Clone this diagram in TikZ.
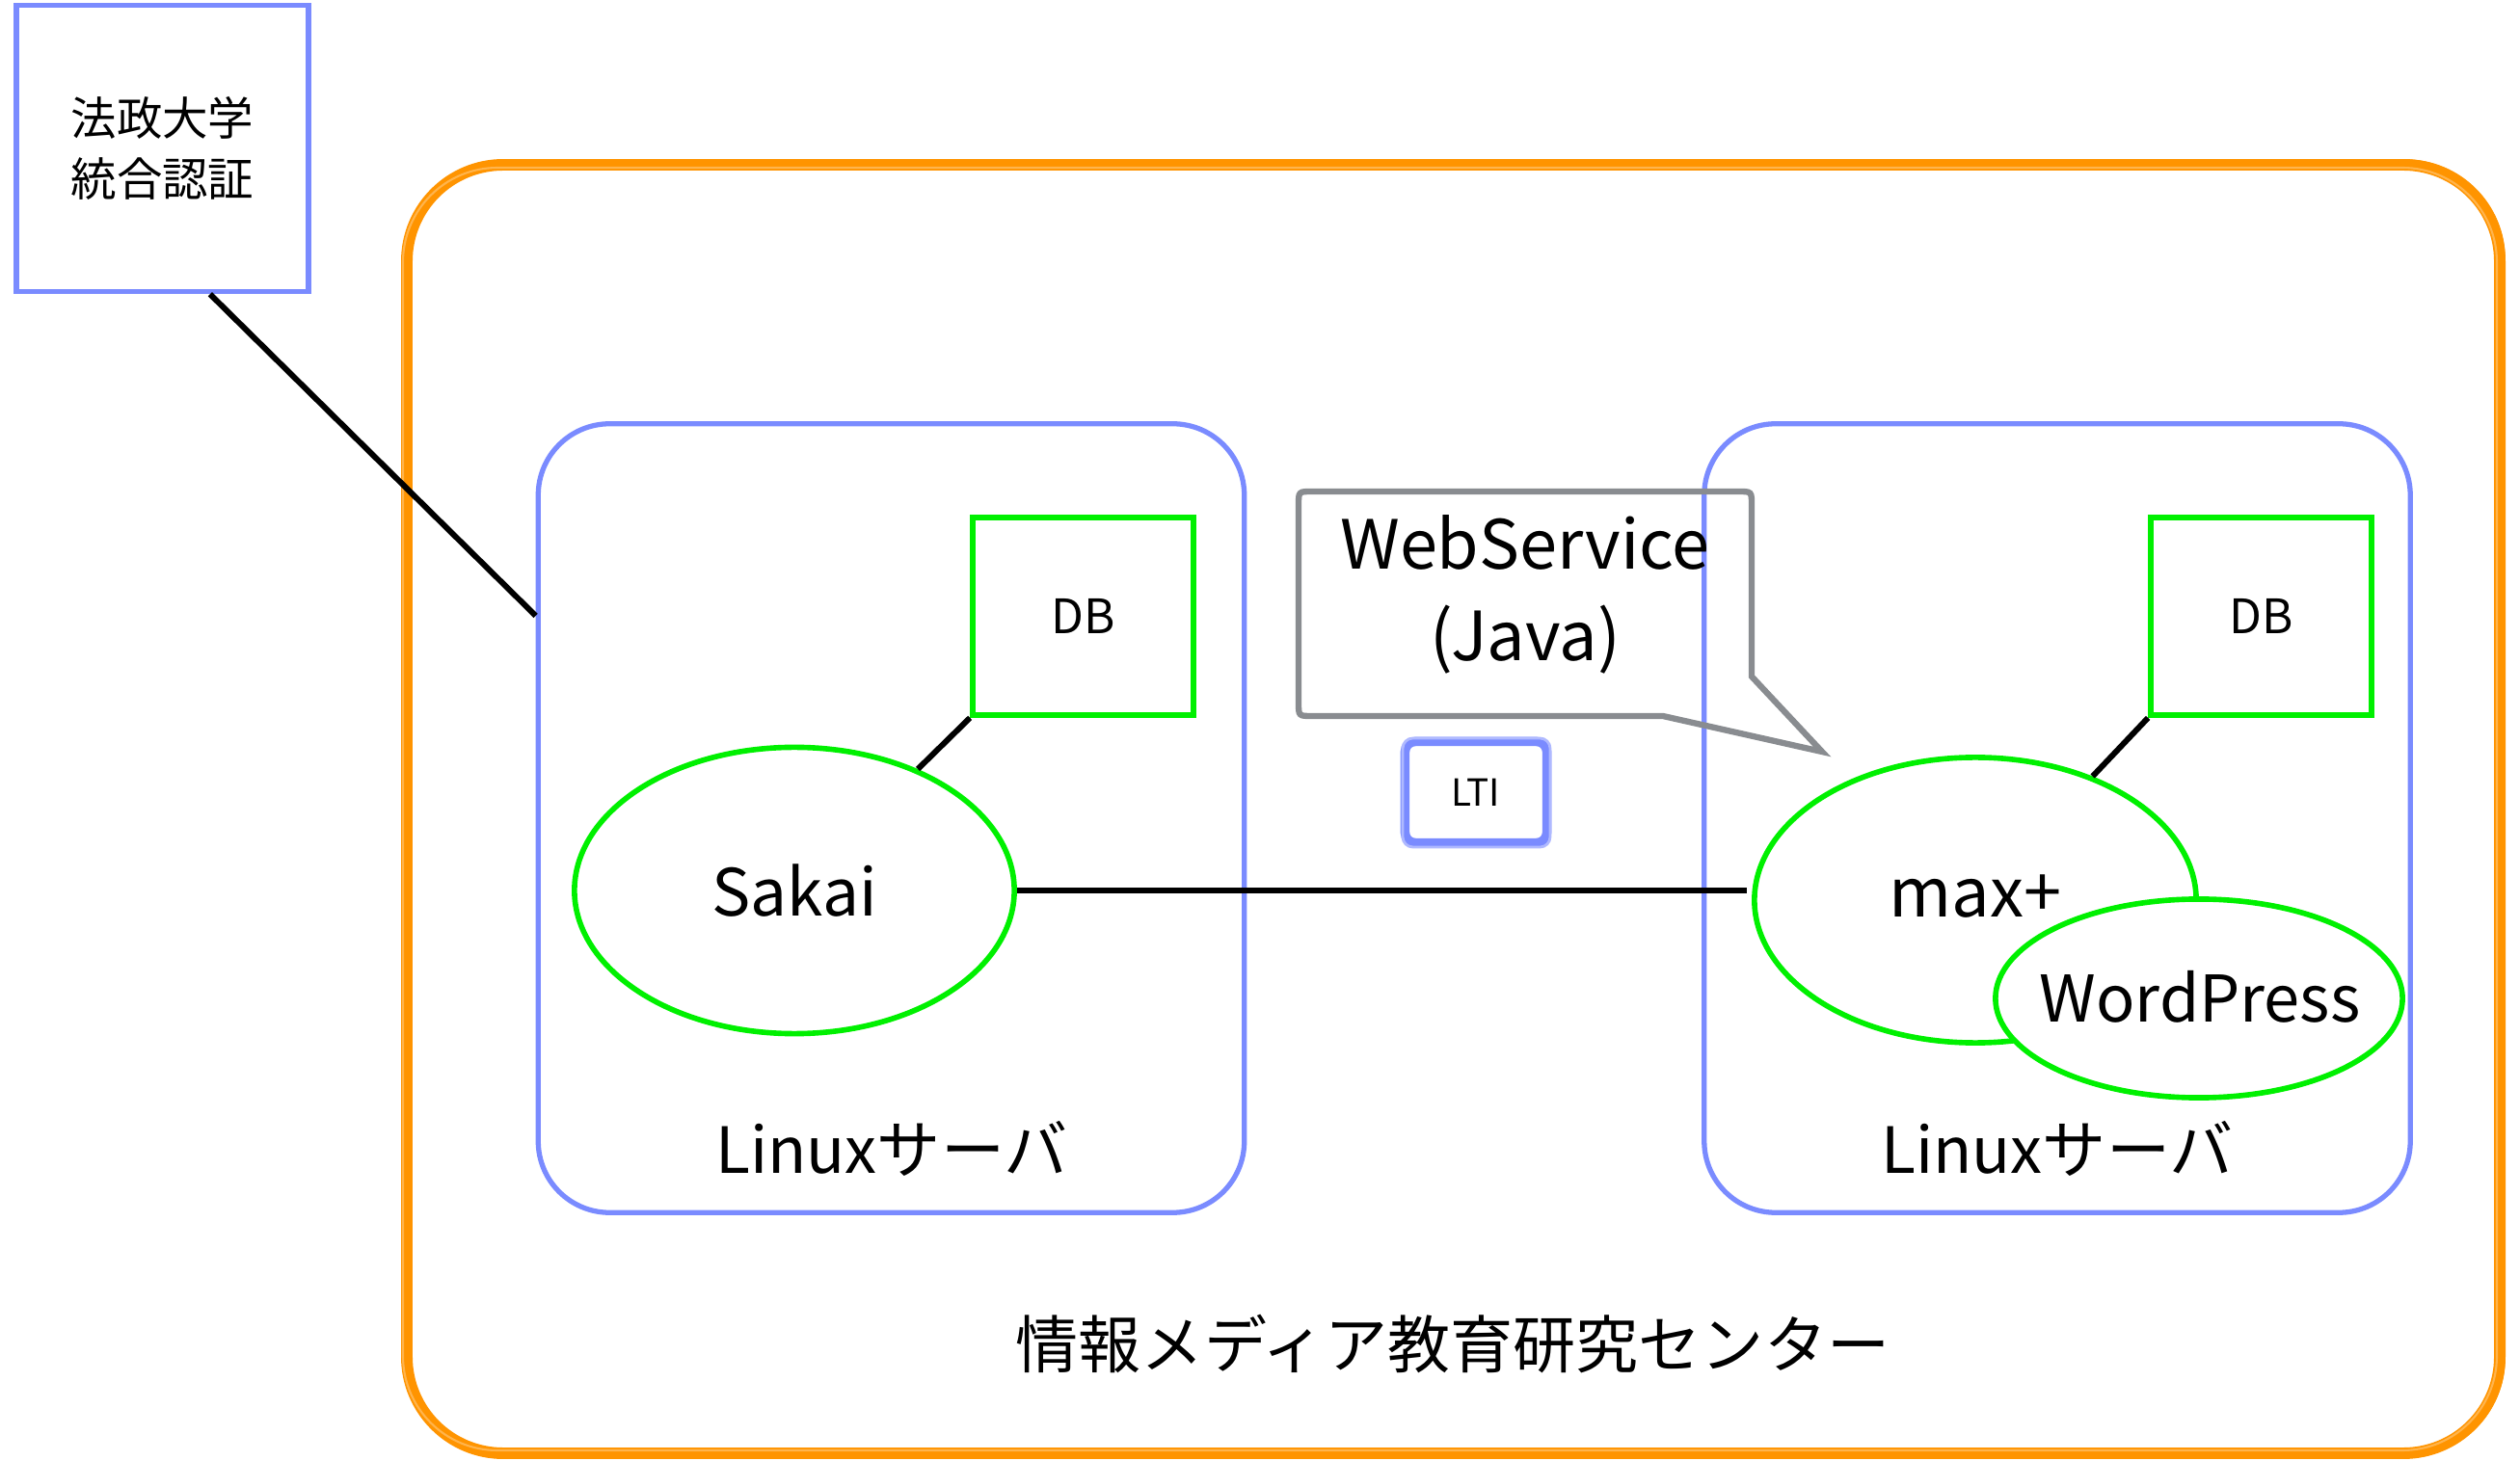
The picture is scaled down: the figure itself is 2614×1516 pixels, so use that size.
\documentclass[tikz,border=0pt]{standalone}
\usepackage{fontspec}
\setmainfont{Noto Sans CJK JP}
\usetikzlibrary{shapes.geometric,calc}
\definecolor{srvblue}{RGB}{122,139,255}
\definecolor{dbgreen}{RGB}{0,240,0}
\definecolor{orng}{RGB}{255,148,0}
\definecolor{callgray}{RGB}{137,140,144}
\tikzset{
  thinln/.style={line width=1.5pt},
  authbox/.style={draw=srvblue,thinln,rectangle,minimum width=3.03cm,minimum height=2.97cm,inner sep=0pt,align=center,font=\fontsize{13.5pt}{18pt}\selectfont},
  srvbox/.style={draw=srvblue,thinln,rectangle,rounded corners=0.74cm,minimum width=7.32cm,minimum height=8.18cm,inner sep=0pt},
  dbbox/.style={draw=dbgreen,line width=1.6pt,rectangle,minimum width=2.29cm,minimum height=2.05cm,inner sep=0pt,font=\fontsize{14pt}{16pt}\selectfont},
  appell/.style={draw=dbgreen,line width=1.6pt,ellipse,inner sep=0pt,fill=white},
  apptxt/.style={inner sep=0pt},
  bigtxt/.style={font=\fontsize{18.8pt}{22pt}\selectfont,inner sep=0pt},
  conn/.style={draw=black,line width=1.7pt},
  callout/.style={draw=callgray,line width=1.8pt,line join=miter},
  ltibox/.style={draw=srvblue,line width=2.7pt,rounded corners=3pt,rectangle,minimum width=1.47cm,minimum height=1.05cm,inner sep=0pt,font=\fontsize{11pt}{13pt}\selectfont},
}
\begin{document}
\begin{tikzpicture}[x=0.01cm,y=-0.01cm]
\useasboundingbox (0,0) rectangle (2614,1516);
% outer orange frame (sketchy)
\draw[orng,line width=3.4pt,rounded corners=1.0cm] (422,171) rectangle (2593,1508);
\draw[orng,line width=1.0pt,rounded corners=1.02cm] (425,167) rectangle (2597,1511);
\draw[orng!70,line width=0.6pt,rounded corners=0.98cm] (418,174) rectangle (2590,1505);
\node[bigtxt,font=\fontsize{18.5pt}{22pt}\selectfont] (center) at (1507,1395) {情報メディア教育研究センター};

% auth box
\node[authbox] (auth) at (168.5,154) {法政大学\\統合認証};

% servers
\node[srvbox] (lsrv) at (924.5,849) {};
\node[srvbox] (rsrv) at (2134,849) {};
\node[bigtxt] (llab) at (925,1192) {Linuxサーバ};
\node[bigtxt] (rlab) at (2134,1192) {Linuxサーバ};

% DBs
\node[dbbox] (ldb) at (1123.5,639.5) {DB};
\node[dbbox] (rdb) at (2345.5,639.5) {DB};

% apps
\node[appell,minimum width=4.56cm,minimum height=2.97cm] (sakai) at (824,924) {};
\node[apptxt,font=\fontsize{19.2pt}{22pt}\selectfont] (sakaitxt) at (sakai.center) {Sakai};
\node[appell,minimum width=4.58cm,minimum height=2.96cm] (maxp) at (2049,934) {};
\node[apptxt,font=\fontsize{20pt}{22pt}\selectfont] (maxptxt) at (2049,930) {max+};
\node[appell,minimum width=4.22cm,minimum height=2.06cm] (wp) at (2281,1036) {};
\node[apptxt,font=\fontsize{19pt}{22pt}\selectfont] (wptxt) at (2282,1034) {WordPress};

% connectors
\coordinate (authfoot) at ($(auth.south west)!0.66!(auth.south east)$);
\coordinate (lsrvhit) at ($(lsrv.north west)!0.245!(lsrv.south west)$);
\draw[conn] (authfoot) -- (lsrvhit);
\draw[conn] (ldb.south west) -- (sakai);
\draw[conn] (rdb.south west) -- (maxp);
\coordinate (maxin) at ([xshift=-0.05cm]sakai.east -| maxp.west);
\draw[conn] (sakai.east) -- (maxin);

% callout
\draw[callout] (1361,510) -- (1803,510) .. controls (1817,510) .. (1817,524) -- (1817,702) -- (1890,780) -- (1725,743) -- (1361,743) .. controls (1347,743) .. (1347,729) -- (1347,524) .. controls (1347,510) .. (1361,510) -- cycle;
\node[align=center,font=\fontsize{20pt}{27pt}\selectfont,inner sep=0pt] (ws) at (1582,617) {WebService\\(Java)};

% LTI
\node[ltibox] (lti) at (1531,822) {LTI};
\draw[srvblue!60,line width=0.8pt,rounded corners=3pt] (1455,766) rectangle (1608,879);
\end{tikzpicture}
\end{document}
